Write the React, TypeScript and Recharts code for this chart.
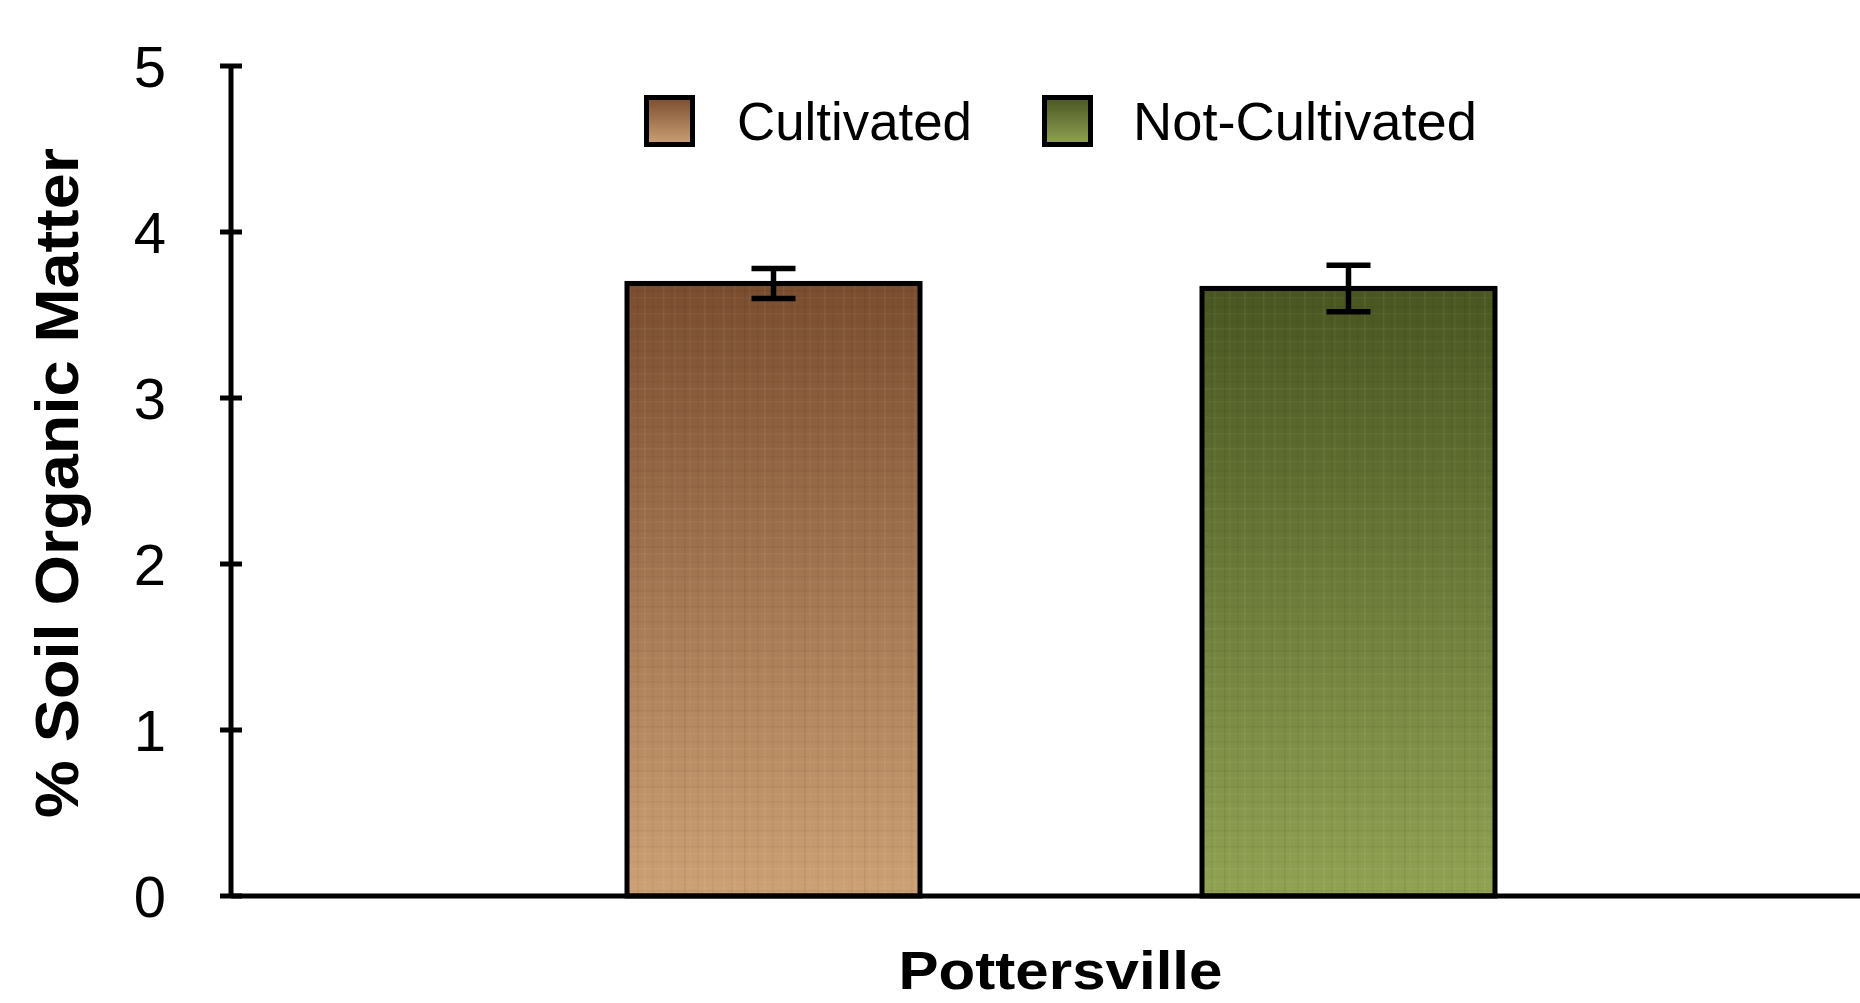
import { Bar, BarChart, ErrorBar, XAxis, YAxis } from 'recharts'

const categories = ['Pottersville']
const cultivated = [3.69]
const cultivatedErr = [0.09]
const notCultivated = [3.66]
const notCultivatedErr = [0.14]
const yTicks = [0, 1, 2, 3, 4, 5]

const series = [
  { key: 'cultivated', label: 'Cultivated', grad: 'gradCult', top: '#7a4d2f', bottom: '#cda175' },
  { key: 'notCultivated', label: 'Not-Cultivated', grad: 'gradNot', top: '#4a5621', bottom: '#91a253' },
]

const data = categories.map((name, i) => ({
  name,
  cultivated: cultivated[i],
  cultivatedErr: cultivatedErr[i],
  notCultivated: notCultivated[i],
  notCultivatedErr: notCultivatedErr[i],
}))

const FONT = '"Liberation Sans", Arial, Helvetica, sans-serif'
const W = 1860
const H = 1003
const AXIS_X = 231

// linen-like texture over the gradient
const weaveV = [3, 11, 14, 24, 29, 37, 44, 52]
const weaveH = [6, 13, 21, 28, 36, 41, 50, 57]

function TexturedBar(props: any) {
  const { x, y, width, height, fill } = props
  if (!height || height <= 0) return null
  return (
    <g>
      <rect x={x} y={y} width={width} height={height} fill={fill} />
      <rect x={x} y={y} width={width} height={height} fill="url(#weave)" />
      <rect x={x} y={y} width={width} height={height} fill="none" stroke="#000" strokeWidth={5} />
    </g>
  )
}

function YTick(props: any) {
  const { y, payload } = props
  return (
    <g>
      <line x1={AXIS_X - 11} x2={AXIS_X + 11} y1={y} y2={y} stroke="#000" strokeWidth={5} />
      <text x={166} y={y + 21} textAnchor="end" fontFamily={FONT} fontSize={58} fill="#000">
        {payload.value}
      </text>
    </g>
  )
}

function XTick(props: any) {
  const { x, payload } = props
  return (
    <text
      x={x}
      y={989}
      textAnchor="middle"
      fontFamily={FONT}
      fontWeight="bold"
      fontSize={53}
      fill="#000"
      textLength={324}
      lengthAdjust="spacingAndGlyphs"
    >
      {payload.value}
    </text>
  )
}

function LegendBox() {
  const items = [
    { s: series[0], boxX: 646.5, textX: 737, len: 235 },
    { s: series[1], boxX: 1044.5, textX: 1133, len: 344 },
  ]
  return (
    <svg width={W} height={170} style={{ position: 'absolute', left: 0, top: 0 }}>
      <defs>
        {series.map((s) => (
          <linearGradient key={s.grad} id={`${s.grad}L`} x1="0" y1="0" x2="0" y2="1">
            <stop offset="0%" stopColor={s.top} />
            <stop offset="100%" stopColor={s.bottom} />
          </linearGradient>
        ))}
      </defs>
      {items.map(({ s, boxX, textX, len }) => (
        <g key={s.key}>
          <rect x={boxX} y={97.5} width={46} height={47} fill={`url(#${s.grad}L)`} stroke="#000" strokeWidth={5} />
          <text x={textX} y={140} fontFamily={FONT} fontSize={53} fill="#000" textLength={len} lengthAdjust="spacingAndGlyphs">
            {s.label}
          </text>
        </g>
      ))}
    </svg>
  )
}

export default function App() {
  return (
    <div style={{ position: 'absolute', left: 0, top: 0, width: W, height: H, background: '#fff' }}>
      <BarChart
        width={W}
        height={H}
        data={data}
        margin={{ top: 66, right: 0, left: 0, bottom: 0 }}
        barSize={293}
        barGap={282}
      >
        <defs>
          {series.map((s) => (
            <linearGradient key={s.grad} id={s.grad} x1="0" y1="0" x2="0" y2="1">
              <stop offset="0%" stopColor={s.top} />
              <stop offset="100%" stopColor={s.bottom} />
            </linearGradient>
          ))}
          <pattern id="weave" width={60} height={60} patternUnits="userSpaceOnUse">
            {weaveV.map((v, i) => (
              <rect key={'v' + i} x={v} y={0} width={1.5} height={60} fill={i % 2 ? '#000' : '#fff'} opacity={i % 3 === 0 ? 0.06 : 0.04} />
            ))}
            {weaveH.map((h, i) => (
              <rect key={'h' + i} x={0} y={h} width={60} height={1.5} fill={i % 2 ? '#fff' : '#000'} opacity={i % 3 === 0 ? 0.05 : 0.03} />
            ))}
          </pattern>
        </defs>
        <XAxis
          dataKey="name"
          height={107}
          padding={{ left: 30, right: 0 }}
          axisLine={{ stroke: '#000', strokeWidth: 5 }}
          tickLine={false}
          tick={<XTick />}
          interval={0}
        />
        <YAxis
          width={AXIS_X}
          domain={[0, 5]}
          ticks={yTicks}
          interval={0}
          axisLine={{ stroke: '#000', strokeWidth: 5 }}
          tickLine={false}
          tick={<YTick />}
          label={{
            content: () => (
              <text
                x={78}
                y={483}
                transform="rotate(-90, 78, 483)"
                textAnchor="middle"
                fontFamily={FONT}
                fontWeight="bold"
                fontSize={62}
                fill="#000"
                textLength={670}
                lengthAdjust="spacingAndGlyphs"
              >
                % Soil Organic Matter
              </text>
            ),
          }}
        />
        {series.map((s) => (
          <Bar
            key={s.key}
            dataKey={s.key}
            name={s.label}
            fill={`url(#${s.grad})`}
            shape={<TexturedBar />}
            isAnimationActive={false}
          >
            <ErrorBar dataKey={`${s.key}Err`} width={22} stroke="#000" strokeWidth={5.5} direction="y" />
          </Bar>
        ))}
      </BarChart>
      <LegendBox />
    </div>
  )
}
